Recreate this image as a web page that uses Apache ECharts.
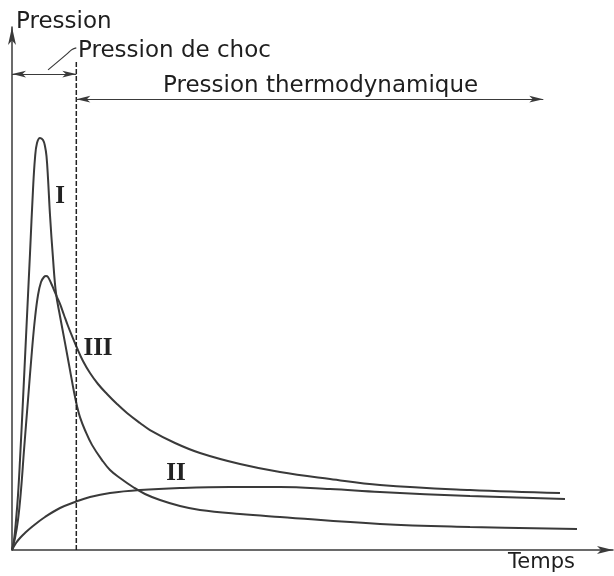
<!DOCTYPE html>
<html>
<head>
<meta charset="utf-8">
<script src="https://cdn.jsdelivr.net/npm/echarts@6/dist/echarts.min.js"></script>
<style>
html, body { margin: 0; padding: 0; background: #fff; }
#main { width: 614px; height: 576px; }
</style>
</head>
<body>
<div id="main"></div>
<script>
// courbe I : choc pur
var timeI  = [0, 0.33, 0.67, 1.00, 1.33, 1.83, 2.33, 3.00, 3.49, 3.83, 4.16, 4.66, 5.16, 5.49, 5.74, 5.99, 6.32, 6.82, 7.32, 7.99, 8.82, 9.65, 10.32, 10.82, 11.31, 12.15, 13.31, 14.98, 16.31, 17.97, 20.13, 22.13, 24.63, 27.95, 31.28, 37.94, 44.59, 61.23, 76.21, 94.01];
var pressI = [0, 1.9, 5.7, 10.5, 17.2, 28.7, 40.7, 56.8, 68.8, 75.0, 77.8, 78.8, 78.4, 77.2, 75.3, 71.1, 64.1, 55.8, 49.1, 44.7, 39.6, 34.4, 30.2, 27.5, 25.4, 22.9, 20.1, 17.2, 15.3, 13.77, 12.05, 10.71, 9.56, 8.41, 7.65, 6.88, 6.31, 4.97, 4.40, 4.02];

// courbe II : pression thermodynamique seule
var timeII  = [0, 0.67, 1.33, 2.16, 3.49, 5.49, 7.99, 10.48, 12.98, 16.31, 21.30, 27.95, 36.27, 44.59, 52.91, 61.23, 76.21, 92.01];
var pressII = [0, 1.34, 2.29, 3.25, 4.59, 6.31, 8.03, 9.18, 10.13, 10.90, 11.47, 11.85, 12.05, 12.05, 11.66, 11.09, 10.33, 9.75];

// courbe III : choc + pression thermodynamique
var timeIII  = [0, 0.50, 1.00, 1.50, 2.00, 2.66, 3.33, 3.83, 4.33, 4.83, 5.32, 5.66, 5.99, 6.49, 6.99, 7.49, 7.99, 8.65, 9.32, 9.98, 10.82, 11.81, 12.98, 14.31, 15.81, 17.47, 19.13, 21.30, 22.96, 27.12, 31.28, 37.94, 44.59, 52.91, 61.23, 76.21, 91.18];
var pressIII = [0, 2.29, 5.74, 11.47, 19.12, 28.68, 38.24, 44.36, 48.76, 51.24, 52.20, 52.39, 52.20, 51.05, 49.71, 48.37, 47.04, 44.93, 42.83, 40.92, 38.62, 36.14, 33.84, 31.74, 29.83, 27.92, 26.20, 24.28, 22.94, 20.46, 18.55, 16.44, 14.91, 13.58, 12.43, 11.47, 10.90];

var curveLabels = ['I', 'II', 'III'];
var axisTitles = ['Pression', 'Temps'];
var zoneLabels = ['Pression de choc', 'Pression thermodynamique'];

var shockEnd = 10.7;   // fin de la zone de choc (temps)

function zip(xs, ys) {
    return xs.map(function (x, i) { return [x, ys[i]]; });
}

var ink = '#3a3a3a';
var font = '"DejaVu Sans", sans-serif';
var numFont = 'bold 25px "Liberation Serif", serif';

var myChart = echarts.init(document.getElementById('main'));

function curve(name, xs, ys) {
    return {
        name: name,
        type: 'line',
        smooth: 0.4,
        showSymbol: false,
        lineStyle: { color: ink, width: 2 },
        data: zip(xs, ys)
    };
}

var option = {
    backgroundColor: '#fff',
    animation: false,
    grid: {
        left: 12,
        right: 1,
        top: 27,
        bottom: 26,
        outerBoundsMode: 'none'
    },
    xAxis: {
        type: 'value',
        min: 0,
        max: 100,
        axisLine: {
            show: true,
            symbol: ['none', 'arrow'],
            symbolSize: [6, 16],
            lineStyle: { color: ink, width: 1.5 }
        },
        axisTick: { show: false },
        axisLabel: { show: false },
        splitLine: { show: false }
    },
    yAxis: {
        type: 'value',
        min: 0,
        max: 100,
        axisLine: {
            show: true,
            symbol: ['none', 'arrow'],
            symbolSize: [6, 18],
            lineStyle: { color: ink, width: 1.5 }
        },
        axisTick: { show: false },
        axisLabel: { show: false },
        splitLine: { show: false }
    },
    series: [
        curve('I', timeI, pressI),
        curve('II', timeII, pressII),
        curve('III', timeIII, pressIII),
        {
            // limite de la zone de choc + flèches
            type: 'line',
            showSymbol: false,
            silent: true,
            lineStyle: { color: '#222', width: 1.5, type: [5, 2] },
            data: [[shockEnd, 0], [shockEnd, 93.7]],
            markLine: {
                silent: true,
                symbol: ['arrow', 'arrow'],
                symbolSize: [5, 14],
                label: { show: false },
                lineStyle: { color: ink, width: 1.2, type: 'solid' },
                data: [
                    [{ coord: [0, 91] }, { coord: [shockEnd, 91] }],
                    [{ coord: [shockEnd, 86.2] }, { coord: [88.4, 86.2] }]
                ]
            }
        },
        {
            // trait de rappel
            type: 'line',
            smooth: 0.4,
            showSymbol: false,
            silent: true,
            lineStyle: { color: ink, width: 1.2 },
            data: [[6.0, 91.8], [9.3, 95.0], [10.0, 95.7], [10.7, 96.0]]
        }
    ],
    graphic: [
        { type: 'text', style: { text: axisTitles[0], x: 16, y: 22, font: '23px ' + font, fill: '#1e1e1e', verticalAlign: 'middle' } },
        { type: 'text', style: { text: axisTitles[1], x: 508, y: 563, font: '21px ' + font, fill: '#1e1e1e', verticalAlign: 'middle' } },
        { type: 'text', style: { text: zoneLabels[0], x: 78, y: 51, font: '23px ' + font, fill: '#1e1e1e', verticalAlign: 'middle' } },
        { type: 'text', style: { text: zoneLabels[1], x: 163, y: 86, font: '23px ' + font, fill: '#1e1e1e', verticalAlign: 'middle' } },
        { type: 'text', style: { text: curveLabels[0], x: 60, y: 197, font: numFont, fill: '#222', align: 'center', verticalAlign: 'middle' } },
        { type: 'text', style: { text: curveLabels[1], x: 176, y: 474, font: numFont, fill: '#222', align: 'center', verticalAlign: 'middle' } },
        { type: 'text', style: { text: curveLabels[2], x: 98, y: 349, font: numFont, fill: '#222', align: 'center', verticalAlign: 'middle' } }
    ]
};

myChart.setOption(option);

window.addEventListener('resize', function () {
    myChart.resize();
});
</script>
</body>
</html>
